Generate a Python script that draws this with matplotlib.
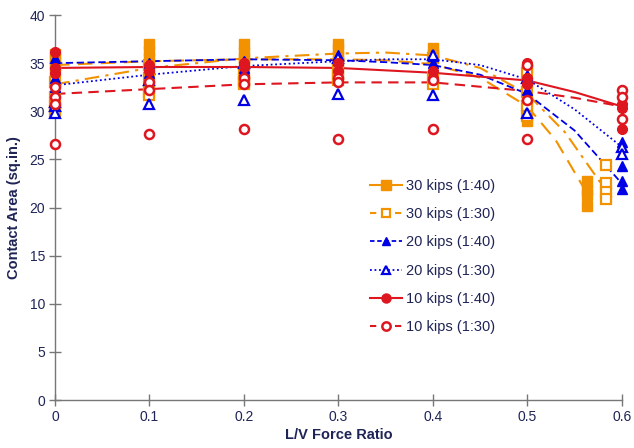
import matplotlib
matplotlib.use("Agg")
import matplotlib.pyplot as plt
from matplotlib.lines import Line2D

plt.rcParams["font.family"] = ["Liberation Sans", "DejaVu Sans"]

# measured contact area (sq.in.) at each L/V ratio, several runs per ratio
x_meas = [0.0, 0.1, 0.2, 0.3, 0.4, 0.5]

k30_140_y = [[36.0, 35.5, 34.8, 34.2], [37.0, 36.3, 35.5, 34.5], [37.0, 36.2, 35.5, 35.0],
             [37.0, 36.5, 35.7, 35.2], [36.6, 36.0, 35.5], [34.5, 33.0, 31.0, 29.0]]
k30_140_end_x = 0.563
k30_140_end_y = [22.8, 21.8, 21.3, 20.2]

k30_130_y = [[33.0, 31.5, 30.5, 30.0], [34.8, 33.5, 32.0, 31.7], [34.0, 33.3, 33.0, 32.8],
             [34.5, 33.8, 33.2], [35.5, 33.5, 32.8], [34.0, 32.0, 30.5, 29.5]]
k30_130_end_x = 0.583
k30_130_end_y = [24.4, 22.6, 21.6, 20.9]

k20_140_y = [[35.5, 33.5, 32.5], [35.0, 34.0, 33.6], [35.2, 34.5, 34.2],
             [35.8, 35.3], [35.7, 35.0, 34.6], [33.8, 33.2, 32.2]]
k20_140_end_x = 0.6
k20_140_end_y = [26.8, 24.3, 22.8, 21.9]

k20_130_y = [[31.0, 30.5, 29.8], [33.3, 30.8], [35.0, 31.2],
             [35.5, 31.8], [35.8, 31.7], [33.5, 29.8]]
k20_130_end_x = 0.6
k20_130_end_y = [26.3, 25.6]

k10_140_y = [[36.2, 34.5, 34.0], [34.8, 34.2], [35.0, 34.6],
             [35.0, 34.2], [34.2, 33.5], [35.0, 33.5, 32.8]]
k10_140_end_x = 0.6
k10_140_end_y = [30.8, 30.3, 28.2]

k10_130_y = [[32.5, 31.5, 30.8, 26.6], [33.0, 32.2, 27.6], [33.5, 32.8, 28.2],
             [33.5, 33.0, 27.1], [33.3, 28.2], [34.8, 31.2, 27.1]]
k10_130_end_x = 0.6
k10_130_end_y = [32.2, 31.5, 29.2]

# trend lines
t30_140_x = [0.0, 0.1, 0.2, 0.3, 0.35, 0.4, 0.45, 0.5, 0.53, 0.563]
t30_140_y = [34.8, 35.2, 35.4, 35.4, 35.3, 34.9, 33.5, 30.5, 27.0, 21.5]
t30_130_x = [0.0, 0.1, 0.2, 0.3, 0.35, 0.4, 0.45, 0.5, 0.54, 0.583]
t30_130_y = [32.8, 34.5, 35.5, 36.0, 36.1, 35.8, 34.5, 31.8, 27.8, 21.8]
t20_140_x = [0.0, 0.1, 0.2, 0.3, 0.35, 0.4, 0.45, 0.5, 0.55, 0.6]
t20_140_y = [35.0, 35.2, 35.4, 35.3, 35.1, 34.8, 33.8, 31.8, 28.0, 22.5]
t20_130_x = [0.0, 0.1, 0.2, 0.3, 0.35, 0.4, 0.45, 0.5, 0.55, 0.6]
t20_130_y = [32.7, 33.8, 34.7, 35.2, 35.4, 35.4, 34.8, 33.3, 30.2, 26.3]
t10_140_x = [0.0, 0.1, 0.2, 0.3, 0.4, 0.5, 0.55, 0.6]
t10_140_y = [34.5, 34.6, 34.6, 34.5, 34.0, 33.2, 32.0, 30.5]
t10_130_x = [0.0, 0.1, 0.2, 0.3, 0.4, 0.5, 0.55, 0.6]
t10_130_y = [31.8, 32.3, 32.8, 33.0, 33.0, 32.1, 31.4, 30.5]

labels = ["30 kips (1:40)", "30 kips (1:30)", "20 kips (1:40)",
          "20 kips (1:30)", "10 kips (1:40)", "10 kips (1:30)"]

ORANGE = "#F39200"
BLUE = "#0000E6"
RED = "#DD1620"
NAVY = "#1F2456"
GRAY = "#777777"

fig = plt.figure(figsize=(6.34, 4.48), dpi=100)
ax = fig.add_axes([0.0868, 0.107, 0.894, 0.8595])

# trend lines
ax.plot(t30_140_x, t30_140_y, color=ORANGE, lw=1.5, dashes=(7, 4))
ax.plot(t30_130_x, t30_130_y, color=ORANGE, lw=1.5, dashes=(7, 3, 1.5, 3))
ax.plot(t20_140_x, t20_140_y, color=BLUE, lw=1.3, dashes=(4, 2))
ax.plot(t20_130_x, t20_130_y, color=BLUE, lw=1.3, dashes=(1, 1.5))
ax.plot(t10_140_x, t10_140_y, color=RED, lw=1.5)
ax.plot(t10_130_x, t10_130_y, color=RED, lw=1.5, dashes=(5, 3))


def scatter(ys, end_x, end_y, **kw):
    xs, yy = [], []
    for x, col in zip(x_meas, ys):
        xs += [x] * len(col)
        yy += col
    xs += [end_x] * len(end_y)
    yy += end_y
    ax.plot(xs, yy, ls="none", clip_on=False, zorder=3, **kw)


scatter(k30_140_y, k30_140_end_x, k30_140_end_y, marker="s", ms=7.5, mfc=ORANGE, mec=ORANGE)
scatter(k30_130_y, k30_130_end_x, k30_130_end_y, marker="s", ms=6.5, mfc="white", mec=ORANGE, mew=1.6)
scatter(k20_140_y, k20_140_end_x, k20_140_end_y, marker="^", ms=6.5, mfc=BLUE, mec=BLUE)
scatter(k20_130_y, k20_130_end_x, k20_130_end_y, marker="^", ms=6.5, mfc="white", mec=BLUE, mew=1.6)
scatter(k10_140_y, k10_140_end_x, k10_140_end_y, marker="o", ms=7, mfc=RED, mec=RED)
scatter(k10_130_y, k10_130_end_x, k10_130_end_y, marker="o", ms=6.5, mfc="white", mec=RED, mew=1.8)

ax.set_xlim(0, 0.6)
ax.set_ylim(0, 40)
ax.set_xticks([0, 0.1, 0.2, 0.3, 0.4, 0.5, 0.6])
ax.set_xticklabels(["0", "0.1", "0.2", "0.3", "0.4", "0.5", "0.6"])
ax.set_yticks(range(0, 41, 5))
for s in ["top", "right"]:
    ax.spines[s].set_visible(False)
for s in ["left", "bottom"]:
    ax.spines[s].set_color(GRAY)
    ax.spines[s].set_linewidth(1.0)
ax.tick_params(direction="inout", length=8, width=1, color=GRAY,
               labelcolor=NAVY, labelsize=10, pad=3)
ax.set_xlabel("L/V Force Ratio", fontsize=10.5, fontweight="bold", color=NAVY, labelpad=3)
ax.set_ylabel("Contact Area (sq.in.)", fontsize=10.5, fontweight="bold", color=NAVY, labelpad=6)

handles = [
    Line2D([], [], color=ORANGE, lw=1.5, marker="s", ms=7, mfc=ORANGE, mec=ORANGE),
    Line2D([], [], color=ORANGE, lw=1.5, dashes=(3, 3), marker="s", ms=6, mfc="white", mec=ORANGE, mew=1.6),
    Line2D([], [], color=BLUE, lw=1.3, dashes=(2.5, 1.5), marker="^", ms=6, mfc=BLUE, mec=BLUE),
    Line2D([], [], color=BLUE, lw=1.3, dashes=(1, 1.5), marker="^", ms=6, mfc="white", mec=BLUE, mew=1.6),
    Line2D([], [], color=RED, lw=1.5, marker="o", ms=6.5, mfc=RED, mec=RED),
    Line2D([], [], color=RED, lw=1.5, dashes=(3, 3), marker="o", ms=6, mfc="white", mec=RED, mew=1.8),
]
leg = fig.legend(handles, labels, loc="upper left", bbox_to_anchor=(0.572, 0.617),
                 frameon=False, fontsize=10.5, labelspacing=0.98, handlelength=2.2,
                 handletextpad=0.3, borderpad=0)
for t in leg.get_texts():
    t.set_color(NAVY)

fig.savefig("out.png", dpi=100)
